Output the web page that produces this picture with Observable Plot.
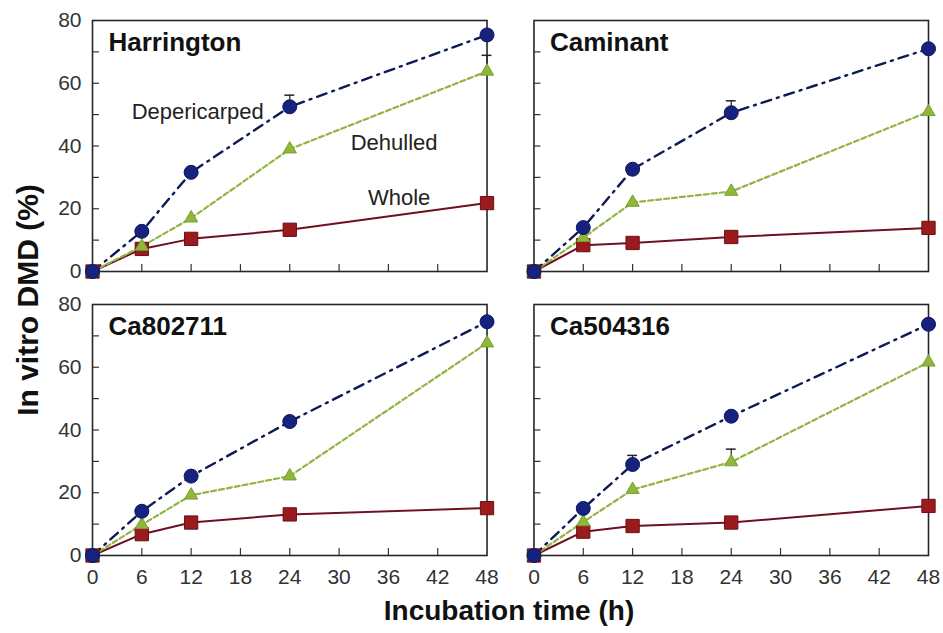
<!DOCTYPE html>
<html>
<head>
<meta charset="utf-8">
<script src="https://cdn.jsdelivr.net/npm/d3@7"></script>
<script src="https://cdn.jsdelivr.net/npm/@observablehq/plot@0.6"></script>
<style>
  html, body { margin: 0; padding: 0; background: #fff; }
  #chart { width: 943px; height: 633px; }
</style>
</head>
<body>
<div id="chart"></div>
<script>
// ---- data ----
const hours = [0, 6, 12, 24, 48];
const cultivars = ["Harrington", "Caminant", "Ca802711", "Ca504316"];
const cultivarCol = [0, 1, 0, 1];
const cultivarRow = [0, 0, 1, 1];
const treatments = ["Depericarped", "Dehulled", "Whole"];

const harringtonDepericarped = [0, 12.8, 31.6, 52.5, 75.4];
const harringtonDehulled     = [0, 8.0, 17.0, 39.0, 63.8];
const harringtonWhole        = [0, 7.2, 10.4, 13.3, 21.8];

const caminantDepericarped = [0, 14.0, 32.6, 50.6, 71.0];
const caminantDehulled     = [0, 10.8, 22.0, 25.5, 50.9];
const caminantWhole        = [0, 8.4, 9.1, 11.0, 13.9];

const ca802711Depericarped = [0, 14.1, 25.3, 42.7, 74.5];
const ca802711Dehulled     = [0, 9.8, 19.2, 25.3, 67.7];
const ca802711Whole        = [0, 6.8, 10.5, 13.1, 15.1];

const ca504316Depericarped = [0, 15.0, 29.0, 44.4, 73.7];
const ca504316Dehulled     = [0, 10.7, 21.0, 29.8, 61.6];
const ca504316Whole        = [0, 7.6, 9.4, 10.5, 15.8];

// error bars (upper end)
const errCultivar  = ["Harrington", "Harrington", "Caminant", "Ca504316", "Ca504316"];
const errTreatment = ["Depericarped", "Dehulled", "Depericarped", "Depericarped", "Dehulled"];
const errHour      = [24, 48, 24, 12, 24];
const errTop       = [56.2, 68.9, 54.4, 31.9, 33.9];

// in-panel series labels (Harrington panel)
const labelText  = ["Depericarped", "Dehulled", "Whole"];
const labelHour  = [12.8, 36.7, 37.3];
const labelValue = [51.0, 41.0, 23.3];

const yTickLabels = [0, 20, 40, 60, 80];
const yTickMarks  = [10, 20, 30, 40, 50, 60, 70];
const xTickLabels = [0, 6, 12, 18, 24, 30, 36, 42, 48];
const xTickMarks  = [6, 12, 18, 24, 30, 36, 42];

// ---- build table ----
const seriesByCultivar = {
  Harrington: [harringtonDepericarped, harringtonDehulled, harringtonWhole],
  Caminant:   [caminantDepericarped, caminantDehulled, caminantWhole],
  Ca802711:   [ca802711Depericarped, ca802711Dehulled, ca802711Whole],
  Ca504316:   [ca504316Depericarped, ca504316Dehulled, ca504316Whole]
};
const rows = [];
cultivars.forEach((c, ci) => {
  treatments.forEach((t, ti) => {
    hours.forEach((h, hi) => {
      rows.push({cultivar: c, col: cultivarCol[ci], row: cultivarRow[ci], treatment: t, hour: h, value: seriesByCultivar[c][ti][hi]});
    });
  });
});
const titles = cultivars.map((c, i) => ({cultivar: c, col: cultivarCol[i], row: cultivarRow[i]}));
const errs = errCultivar.map((c, i) => {
  const ci = cultivars.indexOf(c);
  const ti = treatments.indexOf(errTreatment[i]);
  const hi = hours.indexOf(errHour[i]);
  return {col: cultivarCol[ci], row: cultivarRow[ci], hour: errHour[i], value: seriesByCultivar[c][ti][hi], top: errTop[i]};
});
const labels = labelText.map((t, i) => ({col: 0, row: 0, text: t, hour: labelHour[i], value: labelValue[i]}));

const byT = t => rows.filter(d => d.treatment === t);

const font = "'Liberation Sans', Arial, Helvetica, sans-serif";
const navyLine = "#0e1a55", navyDot = "#15237f";
const greenLine = "#93b444", greenDot = "#8fb83a";
const redLine = "#6e1020", redDot = "#9a1a1e";

const facet = {fx: "col", fy: "row"};

const chart = Plot.plot({
  width: 943,
  height: 633,
  marginLeft: 92,
  marginRight: 15,
  marginTop: 20,
  marginBottom: 78,
  style: {fontFamily: font, fontSize: "21px", color: "#333", background: "#fff"},
  fx: {domain: [0, 1], paddingInner: 47 / 442, paddingOuter: 0, axis: null, round: false},
  fy: {domain: [0, 1], paddingInner: 33 / 284, paddingOuter: 0, axis: null, round: false},
  x: {domain: [0, 48]},
  y: {domain: [0, 80]},
  marks: [
    Plot.frame({stroke: "#262626", strokeWidth: 1.6}),
    Plot.ruleY(yTickMarks, {y: d => d, x1: 0, x2: 0.85, stroke: "#333", strokeWidth: 1.2}),
    Plot.ruleX(xTickMarks, {x: d => d, y1: 0, y2: 2.2, stroke: "#333", strokeWidth: 1.2}),
    Plot.axisY({ticks: yTickLabels, tickSize: 0, tickPadding: 11, label: null, fontSize: 21, fill: "#333"}),
    Plot.axisX({ticks: xTickLabels, tickSize: 0, tickPadding: 14, label: null, fontSize: 21, fill: "#333"}),
    Plot.line(byT("Whole"), {...facet, x: "hour", y: "value", stroke: redLine, strokeWidth: 2}),
    Plot.line(byT("Dehulled"), {...facet, x: "hour", y: "value", stroke: greenLine, strokeWidth: 2.2, strokeDasharray: "5,3"}),
    Plot.line(byT("Depericarped"), {...facet, x: "hour", y: "value", stroke: navyLine, strokeWidth: 2.4, strokeDasharray: "10,6,2,6"}),
    Plot.ruleX(errs, {...facet, x: "hour", y1: "value", y2: "top", stroke: "#222", strokeWidth: 1.2}),
    Plot.ruleY(errs, {...facet, y: "top", x1: d => d.hour - 0.6, x2: d => d.hour + 0.6, stroke: "#222", strokeWidth: 1.5}),
    Plot.dot(byT("Whole"), {...facet, x: "hour", y: "value", symbol: "square", r: 7.5, fill: redDot, stroke: "#6a0f15", strokeWidth: 1}),
    Plot.dot(byT("Dehulled"), {...facet, x: "hour", y: "value", symbol: "triangle", r: 4.9, fill: greenDot, stroke: "#7a9f2e", strokeWidth: 1}),
    Plot.dot(byT("Depericarped"), {...facet, x: "hour", y: "value", symbol: "circle", r: 7, fill: navyDot, stroke: "#0c1660", strokeWidth: 1}),
    Plot.text(titles, {...facet, text: "cultivar", frameAnchor: "top-left", dx: 16, dy: 12, textAnchor: "start", lineAnchor: "top", fontSize: 26, fontWeight: "bold", fill: "#111"}),
    Plot.text(labels, {...facet, x: "hour", y: "value", text: "text", fontSize: 22, fill: "#222"})
  ]
});

const svg = d3.select(chart);
svg.append("text")
  .attr("transform", "translate(38,300) rotate(-90)")
  .attr("text-anchor", "middle")
  .style("font-family", font).style("font-size", "30px").style("font-weight", "bold").style("fill", "#111")
  .text("In vitro DMD (%)");
svg.append("text")
  .attr("x", 509).attr("y", 620)
  .attr("text-anchor", "middle")
  .style("font-family", font).style("font-size", "28px").style("font-weight", "bold").style("fill", "#111")
  .text("Incubation time (h)");

document.getElementById("chart").appendChild(chart);
</script>
</body>
</html>
